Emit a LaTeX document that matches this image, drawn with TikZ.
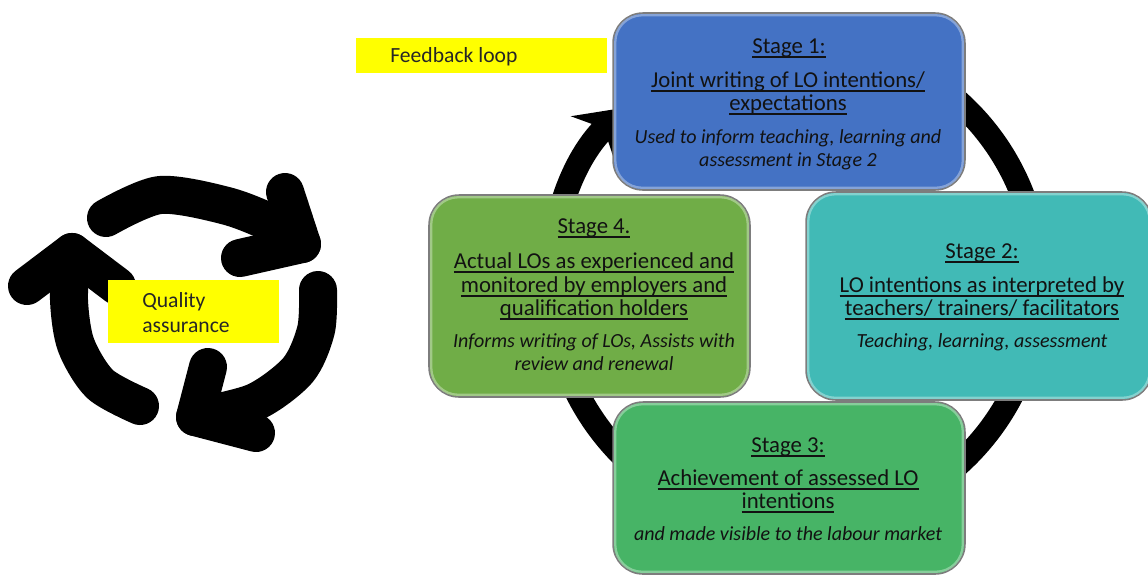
\documentclass[tikz,border=0pt]{standalone}
\usepackage{fontspec}
\setmainfont{Carlito}
\usetikzlibrary{arrows.meta}
\definecolor{sone}{RGB}{68,114,196}
\definecolor{stwo}{RGB}{65,186,182}
\definecolor{sthree}{RGB}{71,180,102}
\definecolor{sfour}{RGB}{112,173,71}
\definecolor{edgegray}{RGB}{125,125,125}
\definecolor{txt}{RGB}{18,18,18}
\definecolor{ylwfill}{RGB}{255,255,0}
\newcommand{\myul}[1]{\setbox0=\hbox{#1}\rlap{\rule[-2.7pt]{\wd0}{0.95pt}}\box0}
\begin{document}
\begin{tikzpicture}[x=0.02cm, y=-0.02cm,
  stagebox/.style={draw=edgegray, line width=0.9pt, rounded corners=0.6cm, inner sep=0pt},
  bevel/.style={draw=white, draw opacity=0.35, line width=1.3pt, rounded corners=0.54cm},
  ttl/.style={anchor=base, inner sep=0pt, text=txt, font=\fontsize{12.95pt}{13pt}\selectfont},
  itl/.style={anchor=base, inner sep=0pt, text=txt, font=\fontsize{11.4pt}{13pt}\selectfont\itshape},
  ylwbox/.style={fill=ylwfill, draw=none, inner sep=0pt},
  lbl/.style={anchor=base west, inner sep=0pt, text=black!85, font=\fontsize{12.3pt}{14pt}\selectfont},
  iconarrow/.style={line width=0.76cm, line cap=round, line join=round, black},
  ring/.style={line width=0.48cm, black, -{Stealth[length=0.9cm, width=1.25cm, inset=0.3cm]}}
]
\useasboundingbox (0,0) rectangle (1148,576);
\fill[white] (0,0) rectangle (1148,576);

% big feedback ring
\coordinate (ringc) at (795,283);
\draw[ring] ([shift={(100:4.88cm)}]ringc) arc[start angle=100, end angle=-226, radius=4.88cm];

% stage boxes
\node[stagebox, fill=sone, minimum width=7.04cm, minimum height=3.54cm] (st1) at (789,101.5) {};
\node[stagebox, fill=stwo, minimum width=6.92cm, minimum height=4.16cm] (st2) at (979,296) {};
\node[stagebox, fill=sthree, minimum width=7.04cm, minimum height=3.44cm] (st3) at (789,488) {};
\node[stagebox, fill=sfour, minimum width=6.42cm, minimum height=4.04cm] (st4) at (589.5,296) {};
\foreach \b in {st1,st2,st3,st4}{
  \path[bevel] ([shift={(3,3)}]\b.north west) rectangle ([shift={(-3,-3)}]\b.south east);
}

% stage 1 text
\node[ttl] (t1a) at (789,53) {\myul{Stage 1:}};
\node[ttl] (t1b) at (788,87) {\myul{Joint writing of LO intentions/}};
\node[ttl] (t1c) at (788,110) {\myul{expectations}};
\node[itl] (t1d) at (788,143) {Used to inform teaching, learning and};
\node[itl] (t1e) at (788,166) {assessment in Stage 2};

% stage 2 text
\node[ttl] (t2a) at (982,258) {\myul{Stage 2:}};
\node[ttl] (t2b) at (982,292) {\myul{LO intentions as interpreted by}};
\node[ttl] (t2c) at (982,315) {\myul{teachers/ trainers/ facilitators}};
\node[itl] (t2d) at (982,347) {Teaching, learning, assessment};

% stage 3 text
\node[ttl] (t3a) at (788,452) {\myul{Stage 3:}};
\node[ttl] (t3b) at (788,485) {\myul{Achievement of assessed LO}};
\node[ttl] (t3c) at (788,508) {\myul{intentions}};
\node[itl] (t3d) at (788,540) {and made visible to the labour market};

% stage 4 text
\node[ttl] (t4a) at (594,233) {\myul{Stage 4.}};
\node[ttl] (t4b) at (594,268) {\myul{Actual LOs as experienced and}};
\node[ttl] (t4c) at (594,292) {\myul{monitored by employers and}};
\node[ttl] (t4d) at (594,315) {\myul{qualification holders}};
\node[itl] (t4e) at (594,347) {Informs writing of LOs, Assists with};
\node[itl] (t4f) at (594,370) {review and renewal};

% feedback loop label
\node[ylwbox, minimum width=5.02cm, minimum height=0.70cm] (fbbox) at (481.5,55.5) {};
\node[lbl] (fbtext) at (390,62) {Feedback loop};

% quality assurance icon
\draw[iconarrow] plot[smooth] coordinates {(106,218) (160,195) (227,206) (275,225) (302,244)};
\draw[iconarrow] (285,192) -- (302,244) -- (240,258);
\draw[iconarrow] plot[smooth] coordinates {(318,290) (316,330) (298,370) (255,402) (195,417)};
\draw[iconarrow] (208,367) -- (195,417) -- (256,433);
\draw[iconarrow] plot[smooth] coordinates {(140,406) (100,384) (76,345) (69,300) (72,252)};
\draw[iconarrow] (27,286) -- (72,252) -- (117,286);

\node[ylwbox, minimum width=3.42cm, minimum height=1.26cm] (qabox) at (193.5,311.5) {};
\node[lbl] (qa1) at (142,307) {Quality};
\node[lbl] (qa2) at (142,332) {assurance};
\end{tikzpicture}
\end{document}
